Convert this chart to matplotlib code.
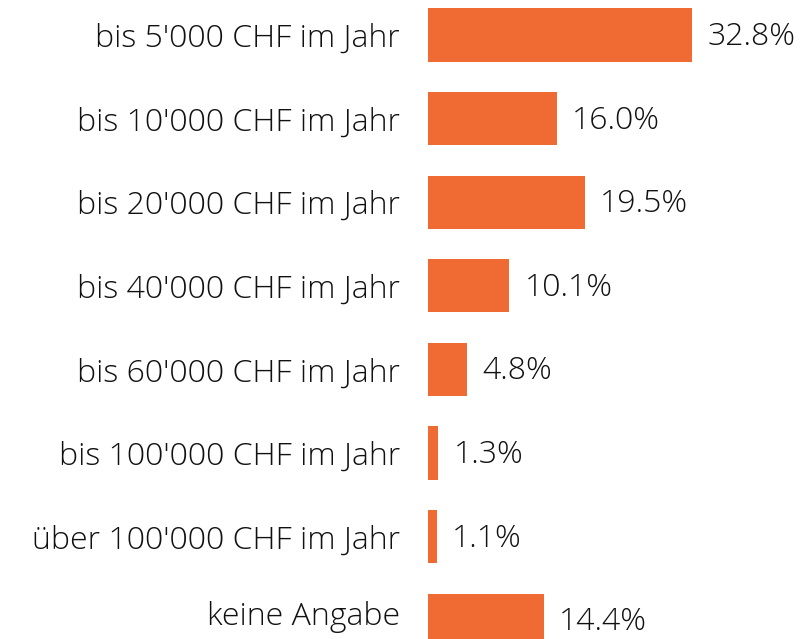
import matplotlib.pyplot as plt
from matplotlib.transforms import ScaledTranslation

plt.rcParams['font.family'] = ['Open Sans', 'DejaVu Sans']

kategorien = ["bis 5'000 CHF im Jahr", "bis 10'000 CHF im Jahr", "bis 20'000 CHF im Jahr",
              "bis 40'000 CHF im Jahr", "bis 60'000 CHF im Jahr", "bis 100'000 CHF im Jahr",
              "über 100'000 CHF im Jahr", "keine Angabe"]
anteile = [32.8, 16.0, 19.5, 10.1, 4.8, 1.3, 1.1, 14.4]

fig = plt.figure(figsize=(8.06, 6.39), dpi=100)
ax = fig.add_axes([428 / 806, 0, 378 / 806, 1])

pos = list(range(len(kategorien)))
ax.barh(pos, anteile, height=0.635, color='#F06A33')
ax.set_xlim(0, 46.96)
ax.set_ylim(7.225, -0.419)

for i, v in enumerate(anteile):
    ax.annotate(f'{v:.1f}%', xy=(v, i), xytext=(11, -1.5), textcoords='offset points',
                ha='left', va='center', fontsize=23, fontweight='light', color='#111111')

ax.set_yticks(pos)
ax.set_yticklabels(kategorien, fontsize=23, fontweight='light', color='#111111')
ax.tick_params(axis='y', length=0, pad=20)
ax.set_xticks([])
for s in ax.spines.values():
    s.set_visible(False)

# letzte Beschriftung sitzt im Original etwas höher
lbl = ax.get_yticklabels()[-1]
lbl.set_transform(lbl.get_transform() + ScaledTranslation(0, 0.07, fig.dpi_scale_trans))

fig.savefig('out.png', dpi=100)
